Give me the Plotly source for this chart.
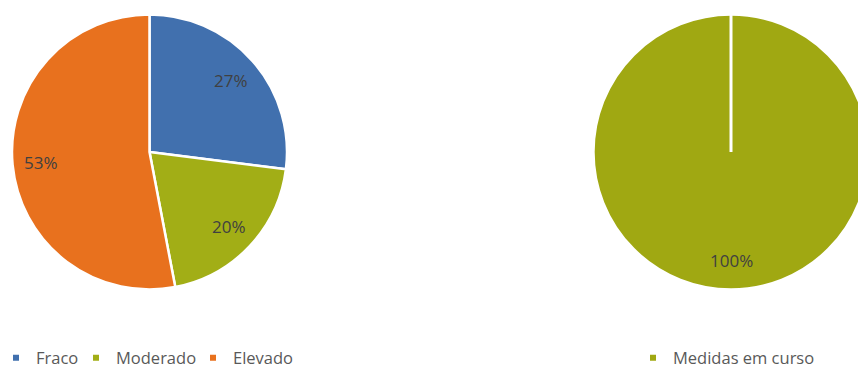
import math
import plotly.graph_objects as go

# Risk level distribution (left pie)
risk_labels = ["Fraco", "Moderado", "Elevado"]
risk_values = [27, 20, 53]
risk_colors = ["#4170AE", "#A2AE16", "#E8711E"]

# Measures status (right pie)
measure_labels = ["Medidas em curso"]
measure_values = [100]
measure_colors = ["#A0A812"]

W, H = 872, 369
FONT = "Open Sans"
LABEL_COLOR = "#404040"
LEGEND_COLOR = "#595959"

# pie geometry in pixels: centre x, centre y, radius
left_geo = (149.5, 152.0, 137.5)
right_geo = (731.0, 152.0, 137.5)

# left edge of each legend entry's text, in pixels
legend_text_x = [36, 116, 233, 673]
legend_row_y = 358


def domain(geo):
    cx, cy, r = geo
    return dict(x=[(cx - r) / W, (cx + r) / W],
                y=[1 - (cy + r) / H, 1 - (cy - r) / H])


def pct_labels(values, geo, frac=0.79):
    """Percent labels placed along each slice's mid-angle (clockwise from 12 o'clock)."""
    cx, cy, r = geo
    total = sum(values)
    out = []
    acc = 0.0
    for v in values:
        mid = (acc + v / 2) / total * 2 * math.pi
        acc += v
        px = cx + frac * r * math.sin(mid)
        py = cy - frac * r * math.cos(mid)
        out.append(dict(x=px / W, y=1 - py / H, xref="paper", yref="paper",
                        text=f"{round(v / total * 100)}%", showarrow=False,
                        font=dict(family=FONT, size=17, color=LABEL_COLOR),
                        xanchor="center", yanchor="middle"))
    return out


fig = go.Figure()

fig.add_trace(go.Pie(
    labels=risk_labels, values=risk_values, sort=False, direction="clockwise",
    rotation=0, domain=domain(left_geo), textinfo="none", showlegend=False,
    marker=dict(colors=risk_colors, line=dict(color="white", width=2.5)),
    hoverinfo="label+percent",
))
fig.add_trace(go.Pie(
    labels=measure_labels, values=measure_values, sort=False, direction="clockwise",
    rotation=0, domain=domain(right_geo), textinfo="none", showlegend=False,
    marker=dict(colors=measure_colors, line=dict(color="white", width=2.5)),
    hoverinfo="label+percent",
))

# legend entries with small square keys, one legend box per entry
legend_names = risk_labels + measure_labels
legend_cols = risk_colors + measure_colors
legend_layout = {}
for i, (name, col) in enumerate(zip(legend_names, legend_cols)):
    key = "legend" if i == 0 else f"legend{i + 1}"
    fig.add_trace(go.Scatter(x=[None], y=[None], mode="markers", name=name,
                             marker=dict(symbol="square", size=6, color=col),
                             legend=key))
    legend_layout[key] = dict(
        x=(legend_text_x[i] - 40) / W, y=1 - legend_row_y / H,
        orientation="h", yanchor="middle", xanchor="left",
        font=dict(family=FONT, size=16.5, color=LEGEND_COLOR),
        bgcolor="rgba(0,0,0,0)", itemwidth=30,
    )

annotations = pct_labels(risk_values, left_geo) + pct_labels(measure_values, right_geo)

# radial seam of the full single-slice pie
rcx, rcy, rr = right_geo
shapes = [dict(type="line", xref="paper", yref="paper",
               x0=rcx / W, x1=rcx / W, y0=1 - rcy / H, y1=1 - (rcy - rr) / H,
               line=dict(color="white", width=3))]

fig.update_layout(
    width=W, height=H,
    margin=dict(l=0, r=0, t=0, b=0, autoexpand=False),
    paper_bgcolor="white", plot_bgcolor="white",
    xaxis=dict(visible=False), yaxis=dict(visible=False),
    annotations=annotations, shapes=shapes,
    font=dict(family=FONT),
    **legend_layout,
)

fig.write_html("out.html", post_script=(
    "document.documentElement.style.overflow='hidden';"
    "document.body.style.overflow='hidden';document.body.style.margin='0';"
))
